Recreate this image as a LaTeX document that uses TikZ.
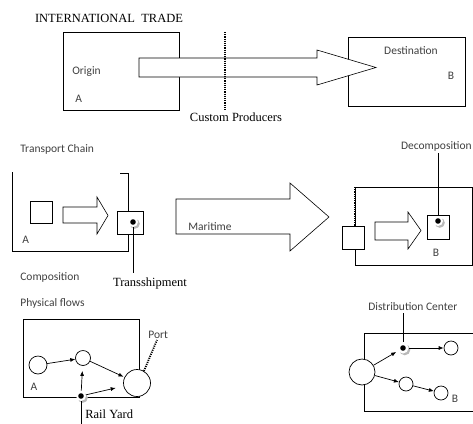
\documentclass[tikz,border=0pt]{standalone}
\usepackage{fontspec}
\setmainfont{Liberation Serif}
\newfontfamily\calib{Carlito}
\usetikzlibrary{positioning,arrows.meta}

\begin{document}
\begin{tikzpicture}[x=1pt, y=-1pt, line width=0.7pt,
  every node/.style={font=\calib\fontsize{11.5}{13}\selectfont, text=black!75, inner sep=0pt},
  serif/.style={font=\rmfamily\fontsize{12.5}{14}\selectfont, text=black},
  box/.style={draw, rectangle, fill=white},
  blockarrow/.style={draw, fill=white, line width=0.6pt, line join=miter},
  customs/.style={line width=2.2pt, dash pattern=on 1.1pt off 1.1pt},
  stop/.style={circle, draw, fill=white},
  hub/.style={circle, minimum size=10pt, fill=white,
    preaction={fill=gray!55, transform canvas={shift={(1.8pt,-1.8pt)}}},
    path picture={\fill[black] (path picture bounding box.center) circle (2.8pt);}},
  flow/.style={-{Latex[length=5pt,width=4pt]}}]
  \useasboundingbox (0,0) rectangle (473,423);

  % international trade
  \node[serif] (title) at (109,18) {INTERNATIONAL\ \ TRADE};
  \node[box, minimum width=116pt, minimum height=78pt] (origin) at (121,71) {};
  \node[anchor=west] (olabel) at (72,72) {Origin};
  \node[anchor=west] (oa) at (75,99) {A};
  \node[box, minimum width=117pt, minimum height=69pt] (dest) at (406.5,71.5) {};
  \node (dlabel) at (411,51) {Destination};
  \node (db) at (451,76) {B};
  \draw[blockarrow] (139,58) -- (317,58) -- (317,50) -- (376,67.5) -- (317,85) -- (317,77) -- (139,77) -- cycle;
  \coordinate (ctop) at (225,32);
  \coordinate (cbot) at (225,110);
  \draw[customs] (ctop) -- (cbot);
  \node[serif] (customs) at (236,117) {Custom Producers};

  % transport chain
  \node[anchor=west] (chain) at (20,149) {Transport Chain};
  \node[box, minimum width=26pt, minimum height=23pt] (tbox) at (130,222.5) {};
  \coordinate (ctl) at (12,172);
  \coordinate (ctr) at (120,173);
  \draw (ctl) -- (12,251) -| (tbox.south -| 128,0);
  \draw (ctr) -- (128,173) -- (tbox.north -| 128,0);
  \node[hub] (trans) at (133,222) {};
  \node[serif] (tlabel) at (150,283) {Transshipment};
  \draw (trans) -- (trans |- 0,273);
  \node[box, minimum width=22pt, minimum height=22pt] (goods) at (41,212) {};
  \draw[blockarrow] (63,207) -- (97,207) -- (97,197) -- (108,215.5) -- (97,234) -- (97,223) -- (63,223) -- cycle;
  \node[anchor=west] (ca) at (22,240) {A};
  \node[anchor=west] (comp) at (20,277) {Composition};

  \draw[blockarrow] (176,199) -- (290,199) -- (290,183) -- (329,217) -- (290,251) -- (290,234) -- (176,234) -- cycle;
  \node[anchor=west] (maritime) at (188,227) {Maritime};

  % destination side
  \draw (355,226) -- (355,187) -- (472,187) -- (472,265) -- (355,265) -- (355,249);
  \draw[customs, line width=1.8pt] (355,187) -- (355,226);
  \node[box, minimum width=22pt, minimum height=23pt] (port2) at (353,237.5) {};
  \draw[blockarrow] (375,222) -- (408,222) -- (408,212) -- (421,230.5) -- (408,249) -- (408,240) -- (375,240) -- cycle;
  \node[box, minimum width=22pt, minimum height=24pt] (dbox) at (438,227) {};
  \node[hub] (decomp) at (438,221) {};
  \node[anchor=east] (declabel) at (472,146) {Decomposition};
  \draw (decomp) -- (decomp |- 0,153);
  \node (cb) at (436,253) {B};

  % physical flows
  \node[anchor=west] (phys) at (20,303) {Physical flows};
  \draw (23,319) rectangle (139,397);
  \node[stop, minimum size=18pt] (c1) at (38,365) {};
  \node[stop, minimum size=15pt] (c2) at (83,358) {};
  \node[stop, minimum size=27pt] (port) at (137,383) {};
  \node[hub] (rail) at (81,396) {};
  \draw[flow] (c1) -- (c2);
  \draw[flow, shorten >=1pt] (c2) -- (port);
  \draw[flow, shorten >=5pt] (rail) -- (c2);
  \draw[flow, shorten >=8pt] (rail) -- (port);
  \node[anchor=west] (plabel) at (148,335) {Port};
  \draw[customs, line width=1.8pt] (port.60) -- (157,340);
  \node (pa) at (34,387) {A};
  \draw (rail) -- (rail |- 0,430);
  \node[serif, anchor=west] (rlabel) at (85,414) {Rail Yard};

  % distribution
  \node[anchor=west] (dclabel) at (368,307) {Distribution Center};
  \draw (480,333) -- (364,333) -- (364,411) -- (480,411);
  \node[stop, minimum size=26pt] (hubin) at (362,372) {};
  \node[hub, minimum size=11pt] (dc) at (403,348) {};
  \node[stop, minimum size=14pt] (r1) at (451,348) {};
  \node[stop, minimum size=14pt] (r2) at (406,384) {};
  \node[stop, minimum size=14pt] (r3) at (441,393) {};
  \draw (dc) -- (dc |- 0,313);
  \draw[flow, shorten >=2pt] (hubin) -- (dc);
  \draw[flow] (dc) -- (r1);
  \draw[flow] (hubin) -- (r2);
  \draw[flow] (r2) -- (r3);
  \node (rb) at (455,399) {B};
\end{tikzpicture}
\end{document}
